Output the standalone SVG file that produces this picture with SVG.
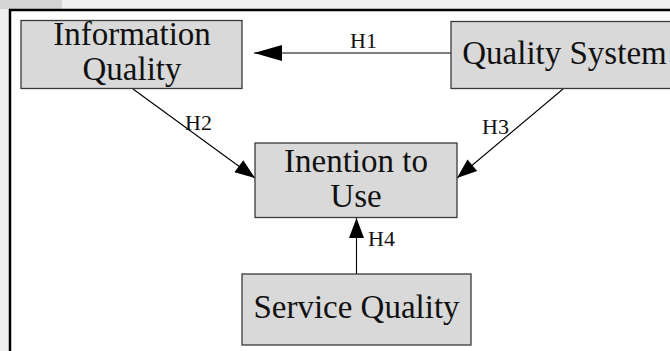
<svg xmlns="http://www.w3.org/2000/svg" width="670" height="351" viewBox="0 0 670 351">
<style>
.box{fill:#d9d9d9;stroke:#3a3a3a;stroke-width:1.3}
.lbl{font-family:"Liberation Serif","Times New Roman",serif;font-size:33px;fill:#111;text-anchor:middle}
.h{font-family:"Liberation Serif","Times New Roman",serif;font-size:22px;fill:#111}
.conn{stroke:#000;stroke-width:1.1;fill:none}
</style>
<defs>
<marker id="ah" markerUnits="userSpaceOnUse" markerWidth="20" markerHeight="15" refX="20" refY="7.5" orient="auto" overflow="visible">
<path d="M0,0 L20,7.5 L0,15 z" fill="#000"/>
</marker>
<marker id="ahl" markerUnits="userSpaceOnUse" markerWidth="28" markerHeight="16" refX="28" refY="8" orient="auto" overflow="visible">
<path d="M0,0 L28,8 L0,16 z" fill="#000"/>
</marker>
</defs>
<rect x="0" y="0" width="670" height="351" fill="#efefef"/>
<rect x="0" y="0" width="62" height="9" fill="#d4d4d4"/>
<rect x="10" y="10" width="700" height="400" fill="#fff" stroke="#000" stroke-width="2.5"/>
<g id="connectors">
<line class="conn" x1="451" y1="53" x2="254" y2="53" marker-end="url(#ahl)"/>
<line class="conn" x1="133" y1="89" x2="255" y2="178" marker-end="url(#ah)"/>
<line class="conn" x1="563" y1="89" x2="457" y2="178" marker-end="url(#ah)"/>
<line class="conn" x1="356.5" y1="274" x2="356.5" y2="218" marker-end="url(#ah)"/>
<text class="h" x="350" y="48">H1</text>
<text class="h" x="185" y="130">H2</text>
<text class="h" x="482" y="134">H3</text>
<text class="h" x="368" y="246">H4</text>
</g>
<g id="information-quality">
<rect class="box" x="21" y="20.5" width="221" height="68"/>
<text class="lbl" x="132" y="45">Information</text>
<text class="lbl" x="132" y="80">Quality</text>
</g>
<g id="quality-system">
<rect class="box" x="451" y="21.5" width="240" height="67"/>
<text class="lbl" x="564.5" y="64">Quality System</text>
</g>
<g id="intention-to-use">
<rect class="box" x="255" y="143" width="202" height="74.5"/>
<text class="lbl" x="356" y="172">Inention to</text>
<text class="lbl" x="356" y="207">Use</text>
</g>
<g id="service-quality">
<rect class="box" x="242" y="274" width="229" height="71"/>
<text class="lbl" x="356.5" y="318">Service Quality</text>
</g>
</svg>
